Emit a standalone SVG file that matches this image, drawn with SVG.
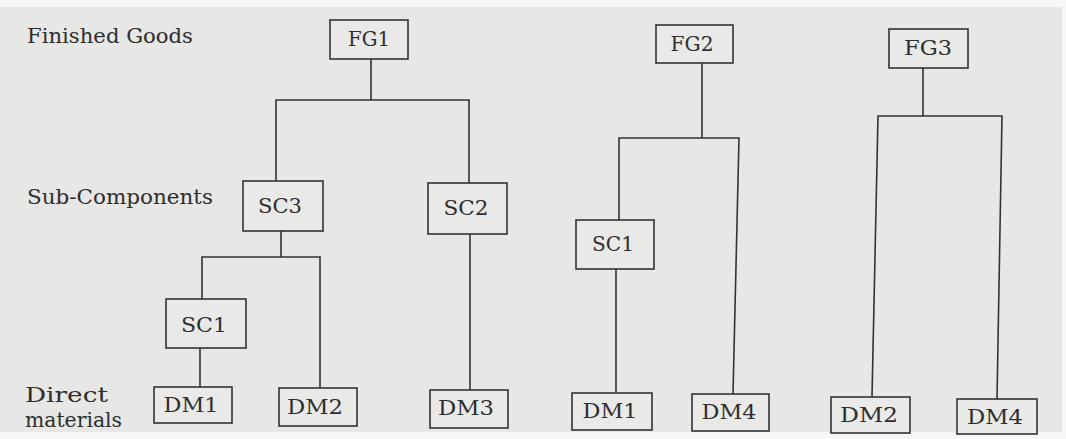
<svg xmlns="http://www.w3.org/2000/svg" width="1066" height="439" viewBox="0 0 1066 439">
<style>
.bg{fill:#e7e7e5}
.box{fill:#e9e9e7;stroke:#333;stroke-width:1.6}
.lbl{font-family:"DejaVu Serif","Liberation Serif",serif;font-size:21px;fill:#2e2e2e}
.t{font-family:"DejaVu Serif","Liberation Serif",serif;font-size:21px;fill:#2e2e2e;text-anchor:middle}
.c{fill:none;stroke:#333;stroke-width:1.6}
</style>
<rect width="1066" height="439" fill="#f7f7f7"/>
<rect class="bg" x="0" y="7" width="1062" height="425"/>
<g id="labels">
<text class="lbl" x="27" y="43" textLength="166" lengthAdjust="spacingAndGlyphs">Finished Goods</text>
<text class="lbl" x="27" y="204" textLength="186" lengthAdjust="spacingAndGlyphs">Sub-Components</text>
<text class="lbl" x="25" y="402" textLength="83" lengthAdjust="spacingAndGlyphs">Direct</text>
<text class="lbl" x="25" y="427" textLength="97" lengthAdjust="spacingAndGlyphs">materials</text>
</g>
<g id="connectors">
<path class="c" d="M371 59 V100 M276 182 V100 H469 V183"/>
<path class="c" d="M281 231 V257 M202 299 V257 H320 V388"/>
<path class="c" d="M200 348 V387"/>
<path class="c" d="M470 234 V390"/>
<path class="c" d="M702 63 V138 M619 220 V138 H739 L733 394"/>
<path class="c" d="M616 269 V393"/>
<path class="c" d="M923 68 V116 M872 397 L878 116 H1002 L997 399"/>
</g>
<g id="FG1"><rect class="box" x="330" y="20" width="78" height="39"/><text class="t" x="369" y="46" textLength="42" lengthAdjust="spacingAndGlyphs">FG1</text></g>
<g id="FG2"><rect class="box" x="656" y="25" width="77" height="38"/><text class="t" x="692" y="51" textLength="43" lengthAdjust="spacingAndGlyphs">FG2</text></g>
<g id="FG3"><rect class="box" x="889" y="29" width="79" height="39"/><text class="t" x="928" y="55" textLength="48" lengthAdjust="spacingAndGlyphs">FG3</text></g>
<g id="SC3"><rect class="box" x="243" y="181" width="80" height="50"/><text class="t" x="280" y="213" textLength="44" lengthAdjust="spacingAndGlyphs">SC3</text></g>
<g id="SC2"><rect class="box" x="428" y="183" width="79" height="51"/><text class="t" x="466" y="215" textLength="45" lengthAdjust="spacingAndGlyphs">SC2</text></g>
<g id="SC1a"><rect class="box" x="166" y="299" width="80" height="49"/><text class="t" x="204" y="332" textLength="46" lengthAdjust="spacingAndGlyphs">SC1</text></g>
<g id="SC1b"><rect class="box" x="576" y="220" width="78" height="49"/><text class="t" x="613" y="251" textLength="42" lengthAdjust="spacingAndGlyphs">SC1</text></g>
<g id="DM1a"><rect class="box" x="154" y="387" width="78" height="36"/><text class="t" x="191" y="412" textLength="55" lengthAdjust="spacingAndGlyphs">DM1</text></g>
<g id="DM2a"><rect class="box" x="279" y="388" width="78" height="38"/><text class="t" x="315" y="414" textLength="56" lengthAdjust="spacingAndGlyphs">DM2</text></g>
<g id="DM3"><rect class="box" x="430" y="390" width="78" height="38"/><text class="t" x="466" y="415" textLength="56" lengthAdjust="spacingAndGlyphs">DM3</text></g>
<g id="DM1b"><rect class="box" x="572" y="393" width="80" height="37"/><text class="t" x="610" y="418" textLength="55" lengthAdjust="spacingAndGlyphs">DM1</text></g>
<g id="DM4a"><rect class="box" x="692" y="394" width="77" height="37"/><text class="t" x="729" y="419" textLength="55" lengthAdjust="spacingAndGlyphs">DM4</text></g>
<g id="DM2b"><rect class="box" x="831" y="397" width="79" height="36"/><text class="t" x="869" y="422" textLength="58" lengthAdjust="spacingAndGlyphs">DM2</text></g>
<g id="DM4b"><rect class="box" x="957" y="399" width="80" height="35"/><text class="t" x="995" y="424" textLength="56" lengthAdjust="spacingAndGlyphs">DM4</text></g>
</svg>
